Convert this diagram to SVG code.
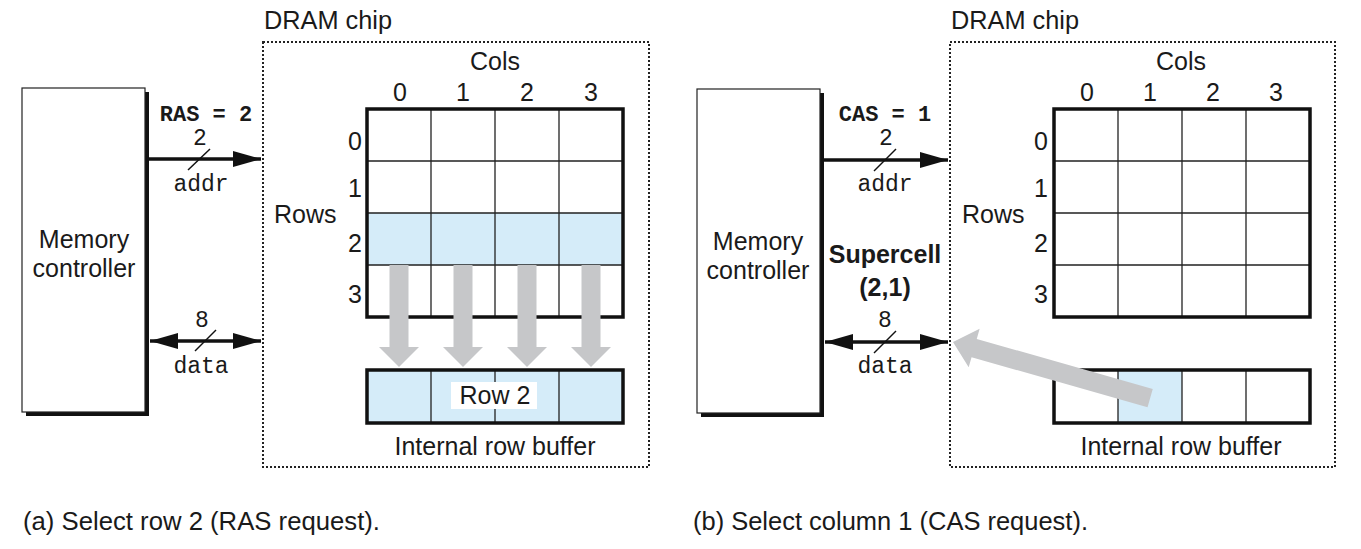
<svg xmlns="http://www.w3.org/2000/svg" width="1361" height="549" viewBox="0 0 1361 549">
<defs>
<style>
.sans{font-family:"Liberation Sans",Arial,Helvetica,sans-serif;font-size:25px;fill:#1a1a1a}
.bold{font-weight:bold}
.mono{font-family:"Liberation Mono","Courier New",monospace;font-size:23px;fill:#1a1a1a}
.monob{font-family:"Liberation Mono","Courier New",monospace;font-size:22px;font-weight:bold;fill:#1a1a1a}
.mid{text-anchor:middle}
.chip{fill:none;stroke:#222;stroke-width:2;stroke-dasharray:2 2}
.box{fill:#fff;stroke:#222;stroke-width:1.2}
.shadow{fill:#111}
.outer{fill:none;stroke:#111;stroke-width:3.5}
.inner{stroke:#222;stroke-width:1.3;fill:none}
.blue{fill:#d5ecf9}
.wire{stroke:#111;stroke-width:3.5;fill:none}
.tick{stroke:#111;stroke-width:1.5}
.gray{fill:#c6c7c9}
</style>
<marker id="ah" markerUnits="userSpaceOnUse" markerWidth="28" markerHeight="16" refX="28" refY="8" orient="auto-start-reverse" viewBox="0 0 28 16">
<path d="M0,0 L28,8 L0,16 z" fill="#111"/>
</marker>
<g id="downArrow"><polygon points="-9.5,0 9.5,0 9.5,82 20,82 0,102 -20,82 -9.5,82" class="gray"/></g>
</defs>
<rect width="1361" height="549" fill="#fff"/>

<!-- Panel A -->
<g id="a-chip">
<rect class="chip" x="263" y="42" width="386" height="425"/>
<text class="sans" x="264" y="29" textLength="128" lengthAdjust="spacingAndGlyphs">DRAM chip</text>
</g>
<g id="a-controller">
<rect class="shadow" x="26" y="92" width="123" height="324"/>
<rect class="box" x="22" y="88" width="123" height="324"/>
<text class="sans mid" x="84" y="248">Memory</text>
<text class="sans mid" x="84" y="277">controller</text>
</g>
<g id="a-array">
<rect class="blue" x="367" y="213" width="256" height="52"/>
<path class="inner" d="M431,109V317M495,109V317M559,109V317M367,161H623M367,213H623M367,265H623"/>
<rect class="outer" x="367" y="109" width="256" height="208"/>
<text class="sans mid" x="495" y="70">Cols</text>
<text class="sans mid" x="400" y="101">0</text>
<text class="sans mid" x="463" y="101">1</text>
<text class="sans mid" x="527" y="101">2</text>
<text class="sans mid" x="591" y="101">3</text>
<text class="sans mid" x="355" y="150">0</text>
<text class="sans mid" x="355" y="197">1</text>
<text class="sans mid" x="355" y="252">2</text>
<text class="sans mid" x="355" y="303">3</text>
<text class="sans" x="274" y="223">Rows</text>
</g>
<g id="a-buffer">
<rect class="blue" x="367" y="370" width="256" height="53"/>
<path class="inner" d="M431,370V423M495,370V423M559,370V423"/>
<rect class="outer" x="367" y="370" width="256" height="53"/>
<rect x="451" y="382" width="86" height="27" fill="#fff"/>
<text class="sans mid" x="495" y="404">Row 2</text>
<text class="sans mid" x="495" y="455">Internal row buffer</text>
</g>

<!-- Panel B -->
<g id="b-chip">
<rect class="chip" x="950" y="42" width="385" height="425"/>
<text class="sans" x="951" y="29" textLength="128" lengthAdjust="spacingAndGlyphs">DRAM chip</text>
</g>
<g id="b-controller">
<rect class="shadow" x="701" y="93" width="123" height="324"/>
<rect class="box" x="697" y="89" width="123" height="324"/>
<text class="sans mid" x="758" y="250">Memory</text>
<text class="sans mid" x="758" y="279">controller</text>
</g>
<g id="b-array">
<path class="inner" d="M1118,109V317M1182,109V317M1246,109V317M1054,161H1310M1054,213H1310M1054,265H1310"/>
<rect class="outer" x="1054" y="109" width="256" height="208"/>
<text class="sans mid" x="1181" y="70">Cols</text>
<text class="sans mid" x="1087" y="101">0</text>
<text class="sans mid" x="1150" y="101">1</text>
<text class="sans mid" x="1213" y="101">2</text>
<text class="sans mid" x="1276" y="101">3</text>
<text class="sans mid" x="1041" y="150">0</text>
<text class="sans mid" x="1041" y="197">1</text>
<text class="sans mid" x="1041" y="252">2</text>
<text class="sans mid" x="1041" y="303">3</text>
<text class="sans" x="962" y="223">Rows</text>
</g>
<g id="b-buffer">
<rect class="blue" x="1118" y="370" width="64" height="53"/>
<path class="inner" d="M1118,370V423M1182,370V423M1246,370V423"/>
<rect class="outer" x="1054" y="370" width="256" height="53"/>
<text class="sans mid" x="1181" y="455">Internal row buffer</text>
</g>
<g id="b-supercell">
<text class="sans bold mid" x="885" y="263">Supercell</text>
<text class="sans bold mid" x="885" y="296">(2,1)</text>
</g>

<!-- Connectors -->
<g id="connectors">
<line class="wire" x1="147" y1="159" x2="261" y2="159" marker-end="url(#ah)"/>
<line class="tick" x1="188" y1="170" x2="210" y2="149"/>
<text class="monob mid" x="206" y="121">RAS = 2</text>
<text class="mono mid" x="200" y="145">2</text>
<text class="mono mid" x="201" y="191">addr</text>

<line class="wire" x1="150" y1="341" x2="261" y2="341" marker-start="url(#ah)" marker-end="url(#ah)"/>
<line class="tick" x1="195" y1="351" x2="216" y2="330"/>
<text class="mono mid" x="202" y="327">8</text>
<text class="mono mid" x="201" y="373">data</text>

<use href="#downArrow" x="399" y="265"/>
<use href="#downArrow" x="463" y="265"/>
<use href="#downArrow" x="527" y="265"/>
<use href="#downArrow" x="591" y="265"/>

<line class="wire" x1="822" y1="160" x2="948" y2="160" marker-end="url(#ah)"/>
<line class="tick" x1="874" y1="171" x2="896" y2="149"/>
<text class="monob mid" x="885" y="121">CAS = 1</text>
<text class="mono mid" x="886" y="145">2</text>
<text class="mono mid" x="885" y="191">addr</text>

<line class="wire" x1="825" y1="342" x2="948" y2="342" marker-start="url(#ah)" marker-end="url(#ah)"/>
<line class="tick" x1="874" y1="353" x2="896" y2="331"/>
<text class="mono mid" x="885" y="327">8</text>
<text class="mono mid" x="885" y="373">data</text>

<polygon class="gray" transform="translate(953,342) rotate(15.9)" points="0,0 22,-20 22,-9.5 205,-9.5 205,9.5 22,9.5 22,20"/>
</g>

<g id="captions">
<text class="sans" x="23" y="530" textLength="357" lengthAdjust="spacingAndGlyphs">(a) Select row 2 (RAS request).</text>
<text class="sans" x="693" y="530" textLength="395" lengthAdjust="spacingAndGlyphs">(b) Select column 1 (CAS request).</text>
</g>
</svg>
